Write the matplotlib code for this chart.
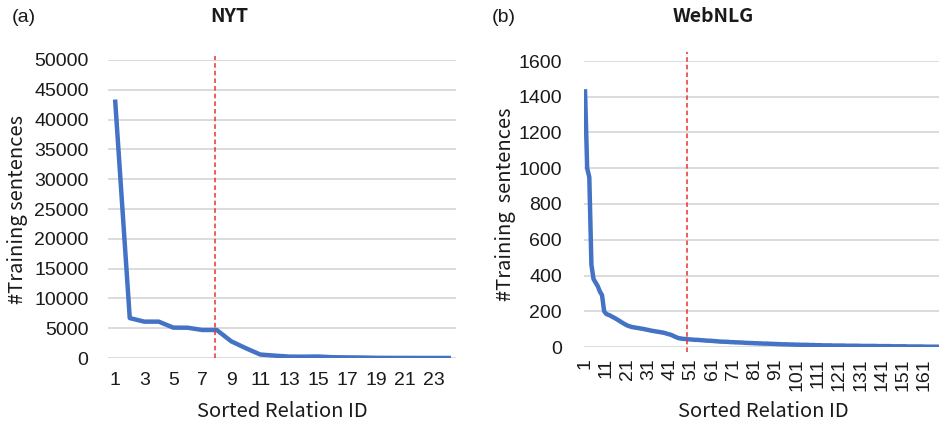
import numpy as np
import matplotlib
matplotlib.use("Agg")
from matplotlib import pyplot as plt

# NYT: 24 relations, sorted by number of training sentences
nyt_counts = [43000, 6700, 6100, 6100, 5100, 5080, 4700, 4700, 2800, 1650,
              580, 400, 230, 220, 250, 130, 100, 80, 30, 20, 15, 10, 5, 5]

# WebNLG: sorted relation counts
webnlg_counts = [1430, 1000, 950, 460, 380, 360, 340, 310, 290, 200,
                 185, 180, 175, 168, 162, 155, 148, 140, 133, 126,
                 120, 116, 112, 110, 108, 106, 104, 102, 100, 97,
                 95, 92, 90, 88, 86, 84, 82, 80, 77, 73,
                 70, 66, 60, 55, 50, 48, 46, 45, 44, 43,
                 42, 41, 40, 40, 39, 38, 37, 36, 35, 35,
                 34, 33, 32, 31, 30, 30, 29, 29, 28, 27,
                 27, 26, 26, 25, 25, 24, 23, 23, 22, 22,
                 21, 21, 20, 20, 19, 19, 19, 18, 18, 17,
                 17, 16, 16, 15, 15, 15, 14, 14, 14, 13,
                 13, 13, 12, 12, 12, 12, 11, 11, 11, 10,
                 10, 10, 9, 9, 9, 9, 9, 8, 8, 8,
                 8, 8, 8, 7, 7, 7, 7, 7, 7, 7,
                 6, 6, 6, 6, 6, 6, 6, 6, 5, 5,
                 5, 5, 5, 5, 5, 4, 4, 4, 4, 4,
                 4, 4, 3, 3, 3, 3, 3, 3, 3, 3,
                 2, 2, 2, 2, 2, 2, 2, 2, 1, 1, 1]

nyt_cut = 7.85      # red dashed separator
webnlg_cut = 49

nyt_yticks = [0, 5000, 10000, 15000, 20000, 25000, 30000, 35000, 40000, 45000, 50000]
nyt_xticks = list(range(1, 24, 2))
web_yticks = [0, 200, 400, 600, 800, 1000, 1200, 1400, 1600]
web_xticks = list(range(1, 162, 10))

blue = '#4472C4'
grid_c = '#d9d9d9'
txt = '#1a1a1a'
tick_font = 'Liberation Sans'
lab_font = ['Noto Sans CJK SC', 'DejaVu Sans']

W, H = 939, 423
fig = plt.figure(figsize=(W / 100, H / 100), dpi=100)


def px_axes(x0, x1, ytop, ybot):
    return fig.add_axes([x0 / W, (H - ybot) / H, (x1 - x0) / W, (ybot - ytop) / H])


def style(ax, yticks):
    for s in ax.spines.values():
        s.set_visible(False)
    ax.set_yticks(yticks)
    ax.yaxis.grid(True, color=grid_c, lw=1.3)
    ax.set_axisbelow(True)
    ax.tick_params(length=0, labelsize=14, colors=txt)
    for lab in ax.get_xticklabels() + ax.get_yticklabels():
        lab.set_fontfamily(tick_font)


def labels(ax, ylab, ypos, xpos):
    yl = ax.set_ylabel(ylab, fontsize=14.5, family=lab_font, color=txt)
    yl.set_va('center')
    ax.yaxis.set_label_coords(*ypos)
    xl = ax.set_xlabel('Sorted Relation ID', fontsize=14.5, family=lab_font, color=txt)
    xl.set_va('center')
    ax.xaxis.set_label_coords(*xpos)


# ---- (a) NYT
ax1 = px_axes(108, 456, 60, 358)
x1 = np.arange(1, len(nyt_counts) + 1)
ax1.plot(x1, nyt_counts, color=blue, lw=3.2, solid_joinstyle='round')
ax1.set_xlim(0.5, 24.5)
ax1.set_ylim(0, 50000)
ax1.set_xticks(nyt_xticks)
style(ax1, nyt_yticks)
ax1.tick_params(axis='y', pad=14)
ax1.tick_params(axis='x', pad=10)
ax1.plot([nyt_cut, nyt_cut], [0, 50700], color='#e8312f', lw=1.1,
         dashes=(3, 2), clip_on=False)
labels(ax1, '#Training sentences', (-0.259, 0.497), (0.5, -0.181))

# ---- (b) WebNLG
ax2 = px_axes(584, 939, 61, 347)
x2 = np.arange(1, len(webnlg_counts) + 1)
ax2.plot(x2, webnlg_counts, color=blue, lw=3.2, solid_joinstyle='round')
ax2.set_xlim(0.5, 168)
ax2.set_ylim(0, 1600)
ax2.set_xticks(web_xticks)
style(ax2, web_yticks)
ax2.tick_params(axis='y', pad=16)
ax2.tick_params(axis='x', pad=8, labelrotation=90)
ax2.plot([webnlg_cut, webnlg_cut], [-30, 1650], color='#e8312f', lw=1.1,
         dashes=(3, 2), clip_on=False)
labels(ax2, '#Training  sentences', (-0.222, 0.5), (0.506, -0.226))

# panel titles
fig.text(12 / W, 1 - 18 / H, '(a)', fontsize=14, family=tick_font, color=txt,
         va='center', ha='left')
fig.text(229 / W, 1 - 17 / H, 'NYT', fontsize=14, family=lab_font, color=txt,
         va='center', ha='center', fontweight='bold')
fig.text(492 / W, 1 - 18 / H, '(b)', fontsize=14, family=tick_font, color=txt,
         va='center', ha='left')
fig.text(713 / W, 1 - 17 / H, 'WebNLG', fontsize=14, family=lab_font, color=txt,
         va='center', ha='center', fontweight='bold')

plt.savefig('out.png', dpi=100)
